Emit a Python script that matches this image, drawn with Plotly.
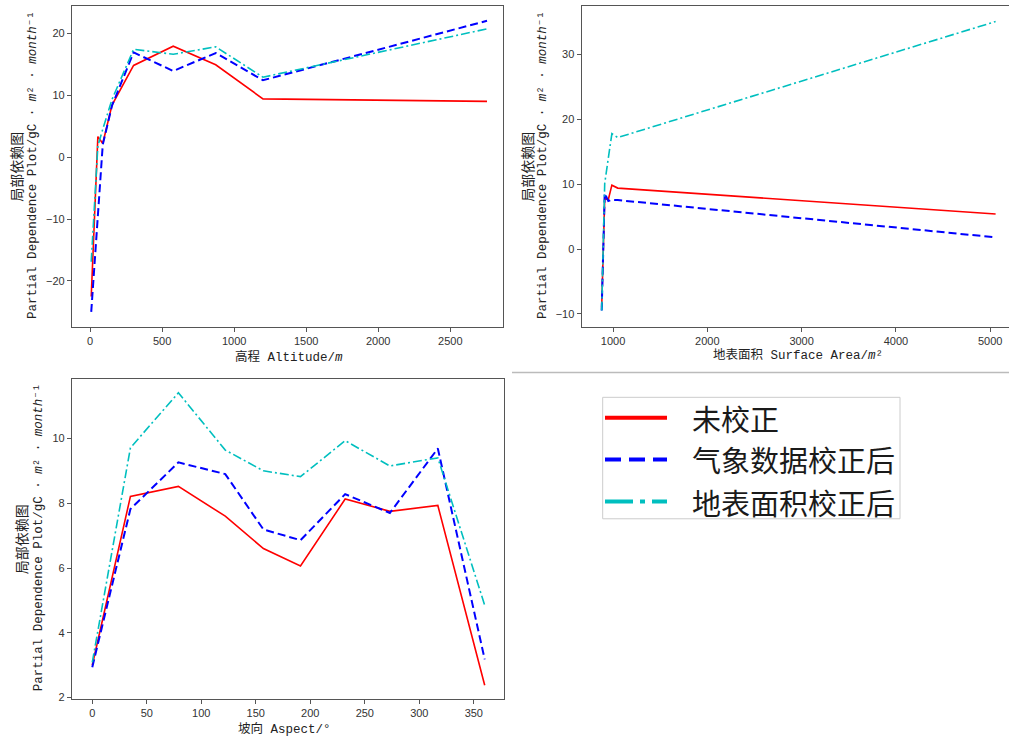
import plotly.graph_objects as go

W, H = 1009, 745

# ---------------- data ----------------
alt_x = [8, 54, 88, 152, 302, 577, 872, 1200, 2755]
alt_red = [-22.5, 3.3, 2.2, 8.4, 14.8, 17.9, 14.9, 9.4, 9.0]
alt_blue = [-25.0, -9.0, 2.0, 8.3, 16.9, 13.9, 16.8, 12.4, 22.0]
alt_cyan = [-16.9, 1.8, 4.5, 9.3, 17.4, 16.6, 17.8, 12.9, 20.7]

sa_x = [880, 900, 912, 950, 988, 1050, 5057]
sa_red = [-9.0, 4.0, 7.8, 7.6, 9.85, 9.4, 5.4]
sa_blue = [-9.5, 3.0, 8.6, 7.4, 7.6, 7.55, 1.8]
sa_cyan = [-9.5, 2.0, 10.1, 14.0, 17.8, 17.2, 35.1]

asp_x = [0, 35, 79, 122, 157, 191, 232, 273, 317, 360]
asp_red = [3.0, 8.21, 8.52, 7.6, 6.6, 6.06, 8.13, 7.75, 7.93, 2.38]
asp_blue = [2.94, 7.82, 9.26, 8.9, 7.19, 6.86, 8.28, 7.7, 9.69, 3.18]
asp_cyan = [3.09, 9.71, 11.41, 9.64, 9.0, 8.82, 9.93, 9.15, 9.4, 4.85]

series_names = ["未校正", "气象数据校正后", "地表面积校正后"]

alt_ticks = [0, 500, 1000, 1500, 2000, 2500]
alt_yticks = [-20, -10, 0, 10, 20]
sa_ticks = [1000, 2000, 3000, 4000, 5000]
sa_yticks = [-10, 0, 10, 20, 30]
asp_ticks = [0, 50, 100, 150, 200, 250, 300, 350]
asp_yticks = [2, 4, 6, 8, 10]

# ---------------- styles ----------------
RED, BLUE, CYAN = "#ff0000", "#0000ff", "#00bfbf"
styles = [
    dict(color=RED, width=1.6, dash="solid"),
    dict(color=BLUE, width=2.0, dash="8px,4px"),
    dict(color=CYAN, width=1.6, dash="9px,3px,2px,3px"),
]

fig = go.Figure()

panels = [
    ("x", "y", alt_x, [alt_red, alt_blue, alt_cyan]),
    ("x2", "y2", sa_x, [sa_red, sa_blue, sa_cyan]),
    ("x3", "y3", asp_x, [asp_red, asp_blue, asp_cyan]),
]
for xa, ya, xs, ys_list in panels:
    for name, ys, st in zip(series_names, ys_list, styles):
        fig.add_trace(go.Scatter(x=xs, y=ys, mode="lines", name=name,
                                 line=st, xaxis=xa, yaxis=ya,
                                 showlegend=False))

def px_x(p):
    return p / W

def px_y(p):
    return 1 - p / H

axis_common = dict(showline=True, linecolor="#555", linewidth=1.3,
                   ticks="outside", ticklen=4, tickcolor="#555", tickwidth=1,
                   tickfont=dict(family="Liberation Sans, Arial", size=11, color="#333"),
                   showgrid=False, zeroline=False)

fig.update_layout(
    width=W, height=H,
    margin=dict(l=0, r=0, t=0, b=0),
    paper_bgcolor="white", plot_bgcolor="white",
    xaxis=dict(domain=[px_x(72), px_x(503)], range=[-125.5, 2866], tickvals=alt_ticks,
               anchor="y", mirror=True, **axis_common),
    yaxis=dict(domain=[px_y(329), px_y(6)], range=[-27.4, 24.4], tickvals=alt_yticks,
               anchor="x", mirror=True, **axis_common),
    xaxis2=dict(domain=[px_x(581.7), 1.0], range=[668, 5199], tickvals=sa_ticks,
                anchor="y2", mirror=True, **axis_common),
    yaxis2=dict(domain=[px_y(329), px_y(6)], range=[-12.0, 37.5], tickvals=sa_yticks,
                anchor="x2", mirror=False, **axis_common),
    xaxis3=dict(domain=[px_x(72), px_x(504)], range=[-18.6, 377.7], tickvals=asp_ticks,
                anchor="y3", mirror=True, **axis_common),
    yaxis3=dict(domain=[px_y(703.3), px_y(381.7)], range=[1.97, 11.83], tickvals=asp_yticks,
                anchor="x3", mirror=True, **axis_common),
)

MONO_CJK = "Liberation Mono, DejaVu Sans Mono, Noto Sans CJK SC"
CJK = "Noto Sans CJK SC"

ylab2 = "Partial Dependence Plot/gC · <i>m</i>² · <i>month</i>⁻¹"
ylab1 = "局部依赖图"

annos = []
def add_text(x, y, text, angle=0, size=12, family=MONO_CJK):
    annos.append(dict(x=px_x(x), y=px_y(y), xref="paper", yref="paper",
                      text=text, showarrow=False, textangle=angle,
                      xanchor="center", yanchor="middle",
                      font=dict(family=family, size=size, color="#222")))

# y-axis labels
add_text(16, 168, ylab1, -90, 14, CJK)
add_text(33, 166, ylab2, -90, 12.5)
add_text(527, 168, ylab1, -90, 14, CJK)
add_text(543, 166, ylab2, -90, 12.5)
add_text(21, 543, ylab1, -90, 14, CJK)
add_text(39, 541, ylab2, -90, 12.5)

# x-axis labels
add_text(289, 359, "高程 Altitude/<i>m</i>", 0, 12.5)
add_text(798, 358, "地表面积 Surface Area/<i>m</i>²", 0, 12.5)
add_text(284, 734, "坡向 Aspect/°", 0, 12.5)

# legend (manual)
shapes = []
shapes.append(dict(type="line", xref="paper", yref="paper",
                   x0=px_x(512), x1=1.0, y0=px_y(375), y1=px_y(375),
                   line=dict(color="#bbbbbb", width=1.5)))
shapes.append(dict(type="rect", xref="paper", yref="paper",
                   x0=px_x(602.7), x1=px_x(900), y0=px_y(522.3), y1=px_y(400),
                   line=dict(color="#cccccc", width=1), fillcolor="white"))
leg_y = [420.5, 462.5, 505]
leg_dash = ["solid", "16px,8px", "28px,7px,5px,7px"]
leg_col = [RED, BLUE, CYAN]
for yy, dsh, col, name in zip(leg_y, leg_dash, leg_col, series_names):
    shapes.append(dict(type="line", xref="paper", yref="paper",
                       x0=px_x(605), x1=px_x(667), y0=px_y(yy), y1=px_y(yy),
                       line=dict(color=col, width=4, dash=dsh)))
    annos.append(dict(x=px_x(690), y=px_y(yy), xref="paper", yref="paper",
                      text=name, showarrow=False, xanchor="left", yanchor="middle",
                      font=dict(family=CJK, size=29, color="#1a1a1a")))

fig.update_layout(annotations=annos, shapes=shapes)

fig.write_html("out.html", config={"displayModeBar": False},
               post_script="document.body.style.margin='0';document.body.style.padding='0';")
